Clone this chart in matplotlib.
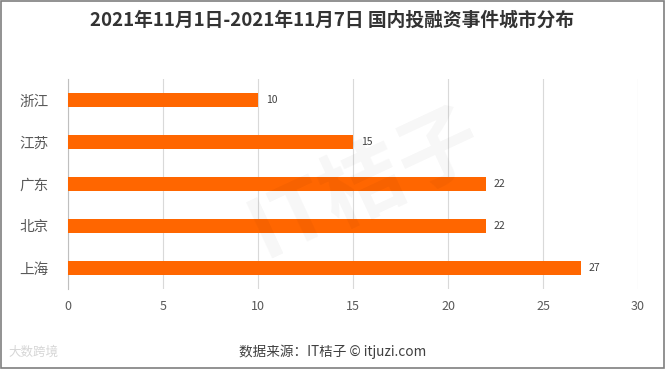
import matplotlib
matplotlib.use("Agg")
import matplotlib.pyplot as plt
from matplotlib.patches import Rectangle

plt.rcParams['font.family'] = ['Noto Sans CJK SC', 'DejaVu Sans']

cities = ["浙江", "江苏", "广东", "北京", "上海"]
counts = [10, 15, 22, 22, 27]
xticks = [0, 5, 10, 15, 20, 25, 30]

fig = plt.figure(figsize=(6.65, 3.69), dpi=100)
ax = fig.add_axes([68/665, 1-289/369, (638-68)/665, 210/369])

ypos = list(range(len(cities)))[::-1]
bars = ax.barh(ypos, counts, height=0.34, color="#FF6600", zorder=3)
for y, v in zip(ypos, counts):
    ax.text(v + 0.4, y, str(v), va="center", ha="left", fontsize=7.5, color="#404040")

ax.set_yticks(ypos)
ax.set_yticklabels(cities, fontsize=10.5, color="#595959")
ax.set_xticks(xticks)
ax.set_xticklabels([str(t) for t in xticks], fontsize=9, color="#595959")
ax.set_xlim(0, 30)
ax.set_ylim(-0.5, 4.5)
ax.grid(axis="x", color="#D9D9D9", linewidth=0.8, zorder=0)
for s in ["top", "right", "bottom"]:
    ax.spines[s].set_visible(False)
ax.spines["left"].set_color("#BFBFBF")
ax.tick_params(axis="both", length=0, pad=8)
ax.tick_params(axis="y", pad=14)

fig.text(0.5, 1-20/369, "2021年11月1日-2021年11月7日 国内投融资事件城市分布",
         ha="center", va="center", fontsize=13.5, fontweight="bold", color="#333333")
fig.text(0.5, 1-352/369, "数据来源：IT桔子 © itjuzi.com",
         ha="center", va="center", fontsize=9.8, color="#404040")
fig.text(8/665, 1-352/369, "大数跨境", ha="left", va="center", fontsize=9,
         color="#CCCCCC", alpha=0.8)
fig.text(0.55, 0.5, "IT桔子", ha="center", va="center", fontsize=60,
         color="#000000", alpha=0.035, rotation=25, fontweight="bold")

fig.patches.append(Rectangle((0.0015, 0.0027), 0.997, 0.995, transform=fig.transFigure,
                             fill=False, edgecolor="#7F7F7F", linewidth=1.2))

fig.savefig("out.png", dpi=100, facecolor="white")
